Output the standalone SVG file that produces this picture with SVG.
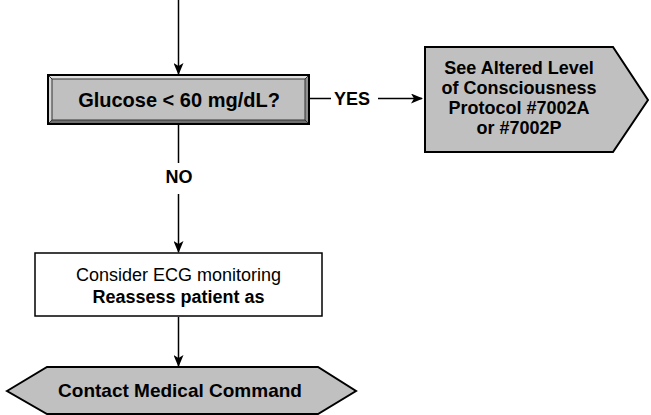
<svg xmlns="http://www.w3.org/2000/svg" width="651" height="415" viewBox="0 0 651 415">
<style>
text{font-family:"Liberation Sans",Arial,sans-serif;fill:#000;}
.b{font-weight:bold;}
.ln{stroke:#000;stroke-width:1.5;fill:none;}
.shape{fill:#c0c0c0;stroke:#000;stroke-width:2;}
</style>
<defs>
<marker id="ah" viewBox="0 0 12 10" refX="11" refY="5" markerWidth="12" markerHeight="10" markerUnits="userSpaceOnUse" orient="auto">
<path d="M0,0 L12,5 L0,10 L3,5 Z" fill="#000"/>
</marker>
</defs>
<rect width="651" height="415" fill="#fff"/>
<g id="connectors">
<line class="ln" x1="178.5" y1="0" x2="178.5" y2="74" marker-end="url(#ah)"/>
<line class="ln" x1="310" y1="98.5" x2="331" y2="98.5"/>
<line class="ln" x1="378" y1="98.5" x2="422" y2="98.5" marker-end="url(#ah)"/>
<line class="ln" x1="178.5" y1="125" x2="178.5" y2="163"/>
<line class="ln" x1="178.5" y1="194" x2="178.5" y2="252" marker-end="url(#ah)"/>
<line class="ln" x1="178.5" y1="317" x2="178.5" y2="366" marker-end="url(#ah)"/>
<text class="b" x="352" y="105" font-size="18" text-anchor="middle">YES</text>
<text class="b" x="179" y="183" font-size="18" text-anchor="middle">NO</text>
</g>
<g id="glucose">
<rect x="48" y="75" width="261" height="49" fill="#c0c0c0"/>
<polygon points="48,75 309,75 305,79 52,79" fill="#e0e0e0"/>
<polygon points="48,75 52,79 52,120 48,124" fill="#d4d4d4"/>
<polygon points="309,75 309,124 305,120 305,79" fill="#909090"/>
<polygon points="48,124 52,120 305,120 309,124" fill="#707070"/>
<rect x="52" y="79" width="253" height="41" fill="none" stroke="#333" stroke-width="1"/>
<line x1="48" y1="75" x2="52" y2="79" stroke="#333" stroke-width="1"/>
<line x1="309" y1="75" x2="305" y2="79" stroke="#333" stroke-width="1"/>
<line x1="48" y1="124" x2="52" y2="120" stroke="#333" stroke-width="1"/>
<line x1="309" y1="124" x2="305" y2="120" stroke="#333" stroke-width="1"/>
<rect x="48" y="75" width="261" height="49" fill="none" stroke="#000" stroke-width="2"/>
<text class="b" x="179" y="107" font-size="20" text-anchor="middle">Glucose &lt; 60 mg/dL?</text>
</g>
<g id="altered">
<polygon class="shape" points="425,47 613,47 648,100 613,152 425,152"/>
<text class="b" font-size="18" text-anchor="middle"><tspan x="519" y="74">See Altered Level</tspan><tspan x="519" y="94">of Consciousness</tspan><tspan x="519" y="114">Protocol #7002A</tspan><tspan x="519" y="134">or #7002P</tspan></text>
</g>
<g id="ecg">
<rect x="35" y="253" width="287" height="63" fill="#fff" stroke="#000" stroke-width="1.5"/>
<text font-size="18" text-anchor="middle" x="178.5" y="281">Consider ECG monitoring</text>
<text class="b" font-size="18" text-anchor="middle" x="178.5" y="303">Reassess patient as</text>
</g>
<g id="contact">
<polygon class="shape" points="7,391 47,367 318,367 356,391 318,414 47,414"/>
<text class="b" font-size="19" text-anchor="middle" x="180" y="397">Contact Medical Command</text>
</g>
</svg>
